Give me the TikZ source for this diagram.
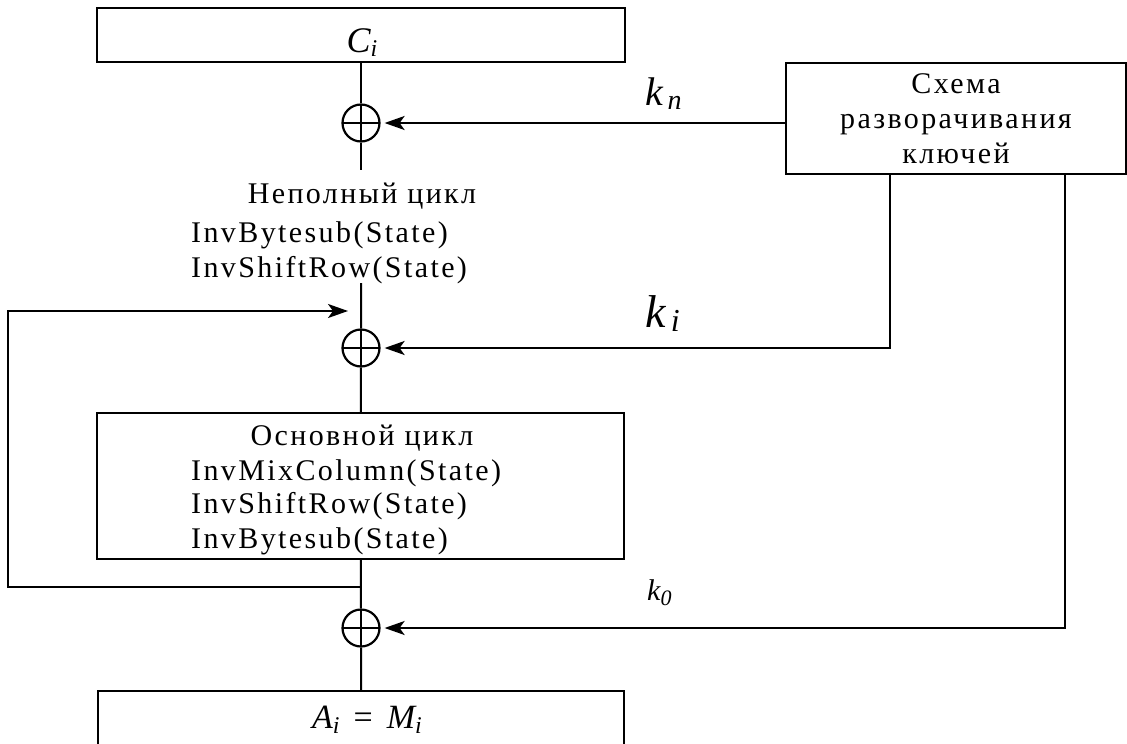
\documentclass[tikz,border=0pt]{standalone}
\usepackage{fontspec}
\setmainfont{Liberation Serif}
\newfontfamily\spaced{Liberation Serif}[LetterSpace=8]
\usetikzlibrary{arrows.meta}
\tikzset{
  box/.style={draw, line width=2pt, inner sep=0pt},
  xor/.style={circle, draw, line width=2.2pt, minimum size=37pt, inner sep=0pt,
    path picture={\draw[line width=1.8pt] (path picture bounding box.west) -- (path picture bounding box.east)
      (path picture bounding box.north) -- (path picture bounding box.south);}},
  wire/.style={line width=2pt},
  tip/.style={-{Stealth[length=20pt,width=14pt,inset=5pt]}},
  arr/.style={wire, tip, shorten >=4pt},
  txt/.style={inner sep=0pt, font=\spaced\fontsize{30}{35}\selectfont},
  lbl/.style={inner sep=0pt, font=\itshape}
}
\begin{document}
\begin{tikzpicture}[x=1pt,y=-1pt]
\useasboundingbox (0,0) rectangle (1127,744);
\clip (0,0) rectangle (1127,744);
% boxes
\node[box, minimum width=528pt, minimum height=54pt] (ci) at (361,35) {};
\node[box, minimum width=340pt, minimum height=111pt, align=center, txt] (key) at (956,118.5)
  {Схема\\разворачивания\\ключей};
\node[box, minimum width=527pt, minimum height=146pt] (mainbox) at (360.5,486) {};
\node[box, minimum width=526pt, minimum height=69pt] (ai) at (361,725.5) {};
% xors
\node[xor] (x1) at (361,123) {};
\node[xor] (x2) at (361,348) {};
\node[xor] (x3) at (361,628) {};
% labels
\node[lbl, anchor=base] (cil) at (362,52) {\fontsize{36}{36}\selectfont C\raisebox{-5pt}{\fontsize{24}{24}\selectfont i}};
\node[lbl, anchor=base west] (knl) at (645,105) {\fontsize{40}{40}\selectfont k\raisebox{-4pt}{\fontsize{28}{28}\selectfont\,n}};
\node[lbl, anchor=base west] (kil) at (645,327) {\fontsize{46}{46}\selectfont k\raisebox{-4pt}{\fontsize{32}{32}\selectfont\,i}};
\node[lbl, anchor=base west] (k0l) at (647,600) {\fontsize{30}{30}\selectfont k\raisebox{-5pt}{\fontsize{22}{22}\selectfont 0}};
\node[lbl, anchor=base] (ail) at (367,728) {\fontsize{34}{34}\selectfont A\raisebox{-5pt}{\fontsize{24}{24}\selectfont i}\hspace{14pt}{\upshape=}\hspace{14pt}M\raisebox{-5pt}{\fontsize{24}{24}\selectfont i}};
% texts
\node[txt, anchor=base] (p0) at (362,203) {Неполный цикл};
\node[txt, anchor=base west] (p1) at (191,242) {InvBytesub(State)};
\node[txt, anchor=base west] (p2) at (191,277) {InvShiftRow(State)};
\node[txt, anchor=base] (m0) at (362,445) {Основной цикл};
\node[txt, anchor=base west] (m1) at (191,480) {InvMixColumn(State)};
\node[txt, anchor=base west] (m2) at (191,513) {InvShiftRow(State)};
\node[txt, anchor=base west] (m3) at (191,548) {InvBytesub(State)};
% coordinates
\coordinate (pa) at (361,170);
\coordinate (pb) at (361,283);
\coordinate (fbs) at (361,587);
\coordinate (fbt) at (348,311);
\coordinate (kb1) at ([xshift=105pt]key.south west);
\coordinate (kb2) at ([xshift=280pt]key.south west);
% main line
\draw[wire] (ci) -- (x1) -- (pa);
\draw[wire] (pb) -- (x2) -- (mainbox);
\draw[wire] (mainbox) -- (x3) -- (ai);
% feedback
\draw[wire, tip] (fbs) -- ++(-353,0) |- (fbt);
% keys
\draw[arr] (key.west |- x1) -- (x1);
\draw[arr] (kb1) |- (x2);
\draw[arr] (kb2) |- (x3);
\end{tikzpicture}
\end{document}
